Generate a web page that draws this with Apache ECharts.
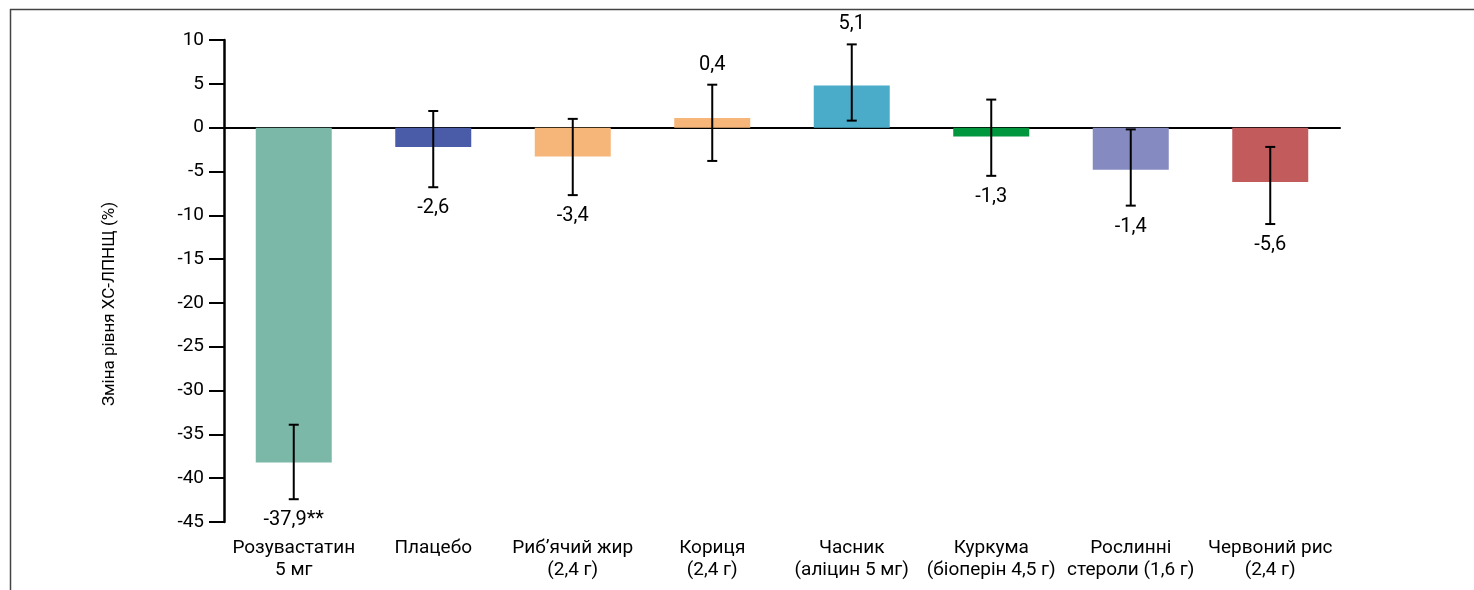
<!DOCTYPE html>
<html>
<head>
<meta charset="utf-8">
<script src="https://cdn.jsdelivr.net/npm/echarts@6/dist/echarts.min.js"></script>
<style>
html,body{margin:0;padding:0;background:#fff;}
#chart{width:1474px;height:590px;}
</style>
</head>
<body>
<div id="chart"></div>
<script>
var categories = ['Розувастатин\n5 мг', 'Плацебо', 'Риб’ячий жир\n(2,4 г)', 'Кориця\n(2,4 г)', 'Часник\n(аліцин 5 мг)', 'Куркума\n(біоперін 4,5 г)', 'Рослинні\nстероли (1,6 г)', 'Червоний рис\n(2,4 г)'];
var barValues = [-38.2, -2.2, -3.3, 1.1, 4.8, -1.0, -4.8, -6.2];
var errLow = [-42.4, -6.8, -7.7, -3.8, 0.8, -5.5, -8.9, -11.0];
var errHigh = [-33.9, 1.9, 1.0, 4.9, 9.5, 3.2, -0.2, -2.2];
var valueLabels = ['-37,9**', '-2,6', '-3,4', '0,4', '5,1', '-1,3', '-1,4', '-5,6'];
var barColors = ['#7bb8a8', '#4a5ca8', '#f7b679', '#f7b679', '#4bacca', '#00973d', '#858ac0', '#c15b5c'];
var yTicks = {min: -45, max: 10, interval: 5};
var yTitle = 'Зміна рівня ХС-ЛПНЩ (%)';

var FONT = 'Roboto';
var chart = echarts.init(document.getElementById('chart'), null, {renderer: 'canvas'});

var errData = categories.map(function (c, i) { return [i, errLow[i], errHigh[i], barValues[i]]; });

var option = {
  backgroundColor: '#fff',
  animation: false,
  grid: {left: 224, right: 134, top: 40, bottom: 68, outerBoundsMode: 'none'},
  xAxis: [
    {
      type: 'category', data: categories, position: 'bottom',
      axisLine: {show: true, onZero: true, lineStyle: {color: '#000', width: 2}},
      axisTick: {show: false}, axisLabel: {show: false}
    },
    {
      type: 'category', data: categories, position: 'bottom',
      axisLine: {show: false, onZero: false}, axisTick: {show: false},
      axisLabel: {show: true, interval: 0, margin: 15, color: '#000', fontFamily: FONT, fontSize: 19, lineHeight: 22}
    }
  ],
  yAxis: {
    type: 'value', min: yTicks.min, max: yTicks.max, interval: yTicks.interval,
    axisLine: {show: true, lineStyle: {color: '#000', width: 2.5}},
    axisTick: {show: true, length: 15, lineStyle: {color: '#000', width: 2}},
    axisLabel: {color: '#000', fontFamily: FONT, fontSize: 19, margin: 20},
    splitLine: {show: false}
  },
  series: [
    {
      type: 'bar', xAxisIndex: 0, barWidth: 76,
      data: barValues.map(function (v, i) { return {value: v, itemStyle: {color: barColors[i]}}; }),
      z: 1
    },
    {
      type: 'custom', xAxisIndex: 0, z: 5,
      encode: {x: 0, y: [1, 2]},
      data: errData,
      renderItem: function (params, api) {
        var i = api.value(0);
        var lo = api.coord([i, api.value(1)]);
        var hi = api.coord([i, api.value(2)]);
        var pos = api.value(3) > 0;
        var half = 5;
        var st = {stroke: '#000', lineWidth: 2};
        return {
          type: 'group',
          children: [
            {type: 'line', shape: {x1: lo[0], y1: lo[1], x2: hi[0], y2: hi[1]}, style: st},
            {type: 'line', shape: {x1: lo[0] - half, y1: lo[1], x2: lo[0] + half, y2: lo[1]}, style: st},
            {type: 'line', shape: {x1: hi[0] - half, y1: hi[1], x2: hi[0] + half, y2: hi[1]}, style: st},
            {type: 'text', x: lo[0], y: pos ? hi[1] - 20 : lo[1] + 21,
              style: {text: valueLabels[params.dataIndex], fill: '#000', font: '20px ' + FONT, align: 'center', verticalAlign: 'middle'}}
          ]
        };
      }
    }
  ],
  graphic: [
    {type: 'line', shape: {x1: 10, y1: 9.5, x2: 1474, y2: 9.5}, style: {stroke: '#444', lineWidth: 1.5}, silent: true},
    {type: 'line', shape: {x1: 10.5, y1: 9, x2: 10.5, y2: 590}, style: {stroke: '#444', lineWidth: 1.5}, silent: true},
    {type: 'text', x: 110, y: 304, rotation: Math.PI / 2, silent: true,
      style: {text: yTitle, fill: '#000', font: '17px ' + FONT, align: 'center', verticalAlign: 'middle'}}
  ]
};
chart.setOption(option);
</script>
</body>
</html>
